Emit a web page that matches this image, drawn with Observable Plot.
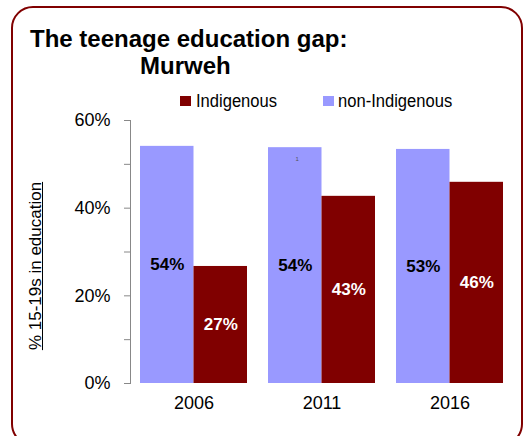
<!DOCTYPE html>
<html>
<head>
<meta charset="utf-8">
<script src="https://cdn.jsdelivr.net/npm/d3@7"></script>
<script src="https://cdn.jsdelivr.net/npm/@observablehq/plot@0.6"></script>
<style>
  html, body { margin: 0; padding: 0; background: white; }
  #wrap { position: relative; width: 531px; height: 436px; overflow: hidden; font-family: "Liberation Sans", Arial, sans-serif; color: #000; }
  #border { position: absolute; left: 11px; top: 6px; width: 512px; height: 440px; box-sizing: border-box; border: 2px solid #800000; border-radius: 22px; }
  .t { position: absolute; font-weight: bold; font-size: 24px; line-height: 24px; white-space: nowrap; }
  .leg { position: absolute; font-size: 18px; line-height: 18px; white-space: nowrap; transform: scaleX(0.92); transform-origin: left center; }
  .sw { position: absolute; width: 11px; height: 10px; }
  #ylab { position: absolute; left: 36px; top: 266px; transform: translate(-50%, -50%) rotate(-90deg); font-size: 17px; white-space: nowrap; text-decoration: underline; }
  #chart { position: absolute; left: 0; top: 0; }
</style>
</head>
<body>
<div id="wrap">
  <div id="chart"></div>
  <div id="border"></div>
  <div class="t" style="left:30px; top:27px;">The teenage education gap:</div>
  <div class="t" style="left:140px; top:54px;">Murweh</div>
  <div class="sw" style="left:180px; top:96px; background:#800000;"></div>
  <div class="leg" style="left:196px; top:92px;">Indigenous</div>
  <div class="sw" style="left:323px; top:96px; background:#9999FF;"></div>
  <div class="leg" style="left:338px; top:92px;">non-Indigenous</div>
  <div id="ylab">% 15-19s in education</div>
</div>
<script>
const years = ["2006", "2011", "2016"];
const nonIndigenous = [54.1, 53.8, 53.4];
const indigenous = [26.7, 42.7, 45.9];
const yTicks = [0, 20, 40, 60];
const yMinorTicks = [10, 30, 50];
const noteLabel = [{year: "2011", value: 51.3, text: "1"}];

const nonData = years.map((y, i) => ({year: y, value: nonIndigenous[i]}));
const indData = years.map((y, i) => ({year: y, value: indigenous[i]}));

const W = 531, H = 436;
const mL = 130, mR = 17;
const step = (W - mL - mR) / (3 - 0.164 + 2 * 0.082);
const bw = step * (1 - 0.164);
const half = bw / 2;

const font = '"Liberation Sans", Arial, sans-serif';

const plot = Plot.plot({
  width: W,
  height: H,
  marginLeft: mL,
  marginRight: mR,
  marginTop: 120,
  marginBottom: 53,
  style: {background: "transparent", fontFamily: font, color: "#000", overflow: "visible"},
  x: {domain: years, paddingInner: 0.164, paddingOuter: 0.082},
  y: {domain: [0, 60]},
  marks: [
    Plot.barY(nonData, {x: "year", y: "value", fill: "#9999FF", insetRight: half}),
    Plot.barY(indData, {x: "year", y: "value", fill: "#800000", insetLeft: half}),
    Plot.text(nonData, {x: "year", y: d => d.value / 2, text: d => Math.round(d.value) + "%", dx: -half / 2, fill: "#000", fontWeight: "bold", fontSize: 17}),
    Plot.text(indData, {x: "year", y: d => d.value / 2, text: d => Math.round(d.value) + "%", dx: half / 2, fill: "#fff", fontWeight: "bold", fontSize: 17}),
    Plot.text(noteLabel, {x: "year", y: "value", text: "text", dx: -half / 2 + 2, fill: "#555", fontSize: 6}),
    Plot.frame({anchor: "left", stroke: "#888"}),
    Plot.axisY({ticks: yTicks, tickFormat: d => d + "%", tickSize: 6, tickPadding: 14, stroke: "#888", fill: "#000", fontSize: 18, label: null}),
    Plot.axisY({ticks: yMinorTicks, tickFormat: () => "", tickSize: 6, stroke: "#888", label: null}),
    Plot.axisX({tickSize: 0, tickPadding: 13, fontSize: 18, fill: "#000", label: null})
  ]
});
document.getElementById("chart").appendChild(plot);
</script>
</body>
</html>
